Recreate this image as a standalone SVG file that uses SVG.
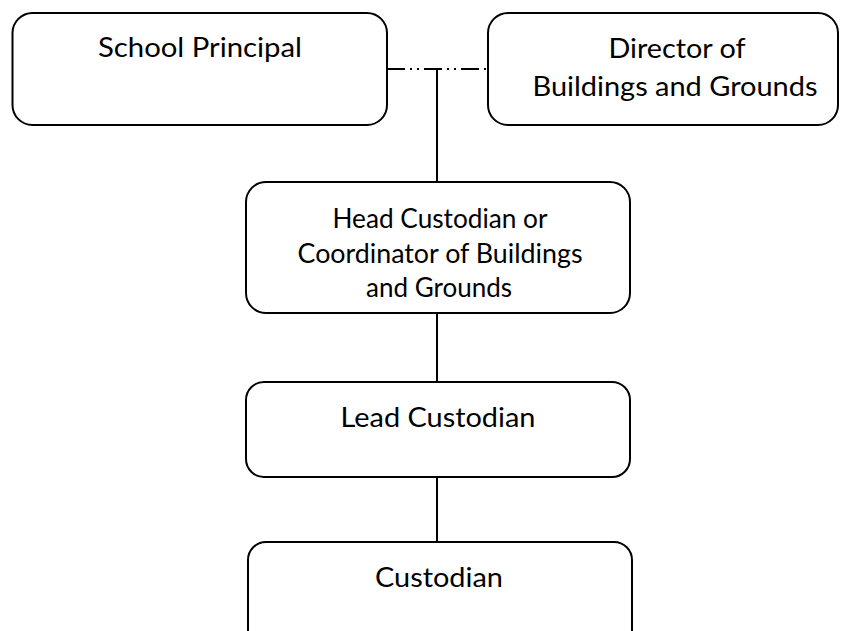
<svg xmlns="http://www.w3.org/2000/svg" width="850" height="631" viewBox="0 0 850 631">
<style>
.box{fill:#fff;stroke:#000;stroke-width:2}
.t{font-family:Lato,"Liberation Sans",sans-serif;font-size:26px;fill:#000;text-anchor:middle}
.c{stroke:#000;stroke-width:2;fill:none}
</style>
<rect width="850" height="631" fill="#fff"/>
<g id="connectors">
<path class="c" d="M387 69 H488" stroke-dasharray="18 5 2 5 2 5"/>
<path class="c" d="M437 69 V182"/>
<path class="c" d="M437 313 V382"/>
<path class="c" d="M437 477 V542"/>
</g>
<g id="school-principal">
<rect class="box" x="12.5" y="13" width="374.5" height="112" rx="20"/>
<text class="t" x="200" y="57" textLength="204" lengthAdjust="spacingAndGlyphs">School Principal</text>
</g>
<g id="director">
<rect class="box" x="488" y="13" width="350" height="112" rx="20"/>
<text class="t" x="677" y="58" textLength="137" lengthAdjust="spacingAndGlyphs">Director of</text>
<text class="t" x="675" y="96" textLength="285" lengthAdjust="spacingAndGlyphs">Buildings and Grounds</text>
</g>
<g id="head-custodian">
<rect class="box" x="246" y="182" width="384" height="131" rx="20"/>
<text class="t" x="440" y="228" textLength="215" lengthAdjust="spacingAndGlyphs">Head Custodian or</text>
<text class="t" x="440" y="263" textLength="285" lengthAdjust="spacingAndGlyphs">Coordinator of Buildings</text>
<text class="t" x="439" y="297" textLength="146" lengthAdjust="spacingAndGlyphs">and Grounds</text>
</g>
<g id="lead-custodian">
<rect class="box" x="246" y="382" width="384" height="95" rx="18"/>
<text class="t" x="438" y="427" textLength="195" lengthAdjust="spacingAndGlyphs">Lead Custodian</text>
</g>
<g id="custodian">
<rect class="box" x="248" y="542" width="384" height="120" rx="18"/>
<text class="t" x="439" y="587" textLength="128" lengthAdjust="spacingAndGlyphs">Custodian</text>
</g>
</svg>
